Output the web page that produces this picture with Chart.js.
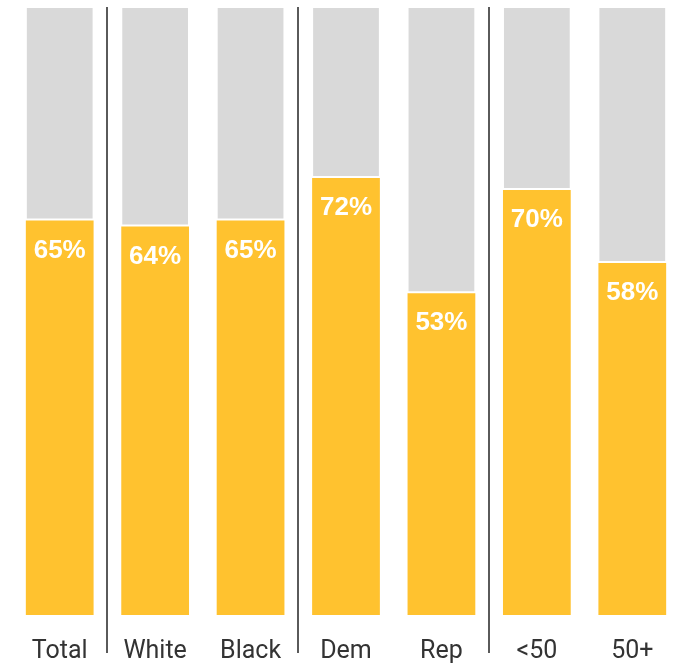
<!DOCTYPE html>
<html>
<head>
<meta charset="utf-8">
<script src="https://cdn.jsdelivr.net/npm/chart.js@4"></script>
<style>
  html, body { margin: 0; padding: 0; background: #fff; }
  #wrap { width: 680px; height: 663px; }
</style>
</head>
<body>
<div id="wrap"><canvas id="chart"></canvas></div>
<script>
// Share of each group (percent)
const categories = ['Total', 'White', 'Black', 'Dem', 'Rep', '<50', '50+'];
const shares = [65, 64, 65, 72, 53, 70, 58];
const remainder = shares.map(v => 100 - v);
// separators sit after these category indexes
const groupBreaks = [0, 2, 4];

// Vertical separators between groups
const separatorPlugin = {
    id: 'separators',
    afterDatasetsDraw(chart) {
        const ctx = chart.ctx;
        const x = chart.scales.x;
        ctx.save();
        ctx.strokeStyle = '#5a5a5a';
        ctx.lineWidth = 2;
        groupBreaks.forEach(i => {
            const px = Math.round((x.getPixelForValue(i) + x.getPixelForValue(i + 1)) / 2);
            ctx.beginPath();
            ctx.moveTo(px, 7);
            ctx.lineTo(px, 653);
            ctx.stroke();
        });
        ctx.restore();
    }
};

// Percent labels inside top of yellow bars
const valueLabelPlugin = {
    id: 'valueLabels',
    afterDatasetsDraw(chart) {
        const ctx = chart.ctx;
        const meta = chart.getDatasetMeta(0);
        ctx.save();
        ctx.fillStyle = '#ffffff';
        ctx.font = 'bold 26px "Liberation Sans", Arial, sans-serif';
        ctx.textAlign = 'center';
        ctx.textBaseline = 'middle';
        meta.data.forEach((bar, i) => {
            ctx.fillText(shares[i] + '%', bar.x, bar.y + 30);
        });
        ctx.restore();
    }
};

new Chart(document.getElementById('chart'), {
    type: 'bar',
    data: {
        labels: categories,
        datasets: [
            {
                data: shares,
                backgroundColor: '#ffc22f',
                borderWidth: 0,
                barPercentage: 0.71,
                categoryPercentage: 1.0
            },
            {
                data: remainder,
                backgroundColor: '#d9d9d9',
                borderColor: '#ffffff',
                borderWidth: { bottom: 2, left: 1, right: 1, top: 0 },
                borderSkipped: false,
                barPercentage: 0.71,
                categoryPercentage: 1.0
            }
        ]
    },
    options: {
        responsive: true,
        maintainAspectRatio: false,
        animation: false,
        layout: { padding: { left: 12, right: 0, top: 8, bottom: 0 } },
        plugins: {
            legend: { display: false },
            tooltip: { enabled: false }
        },
        scales: {
            x: {
                stacked: true,
                grid: { display: false },
                border: { display: false },
                ticks: {
                    color: '#333333',
                    padding: 14,
                    font: { family: 'Roboto, "Liberation Sans", sans-serif', size: 25 }
                },
                afterFit(scale) {
                    scale.height = 48;
                }
            },
            y: {
                stacked: true,
                display: false,
                min: 0,
                max: 100
            }
        }
    },
    plugins: [separatorPlugin, valueLabelPlugin]
});
</script>
</body>
</html>
